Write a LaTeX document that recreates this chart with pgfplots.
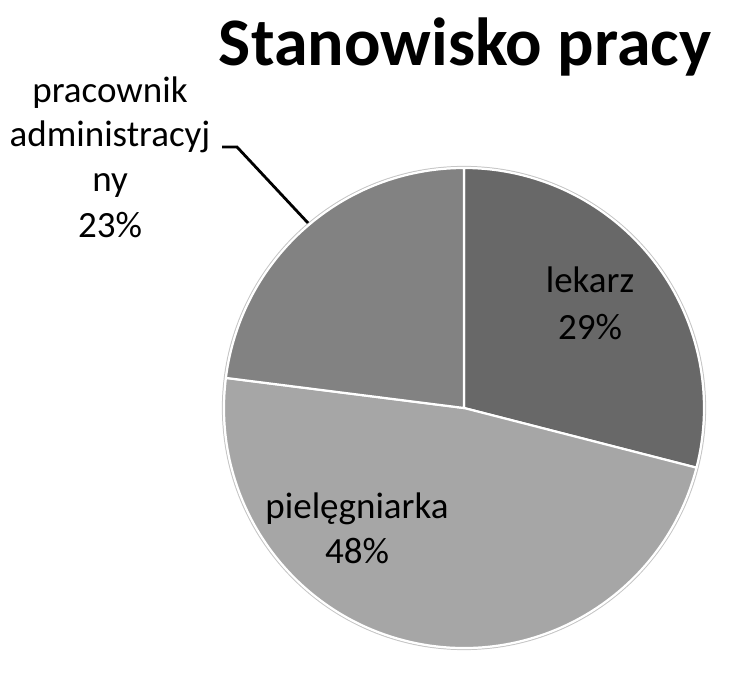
\documentclass[border=0pt]{standalone}
\usepackage{pgfplots}
\usepackage{pgfplotstable}
\pgfplotsset{compat=1.18}
\usepackage{fontspec}
\setmainfont{Carlito}
\definecolor{clek}{RGB}{104,104,104}
\definecolor{cpiel}{RGB}{166,166,166}
\definecolor{cadm}{RGB}{130,130,130}
\pgfplotstableread{
label value
lekarz 29
pielegniarka 48
administracyjny 23
}\piedata
\begin{document}
\begin{tikzpicture}
\pgfplotstablegetelem{0}{value}\of\piedata \pgfmathsetmacro{\va}{\pgfplotsretval}
\pgfplotstablegetelem{1}{value}\of\piedata \pgfmathsetmacro{\vb}{\pgfplotsretval}
\pgfplotstablegetelem{2}{value}\of\piedata \pgfmathsetmacro{\vc}{\pgfplotsretval}
\pgfmathsetmacro{\aA}{90}
\pgfmathsetmacro{\aB}{90-3.6*\va}
\pgfmathsetmacro{\aC}{\aB-3.6*\vb}
\pgfmathsetmacro{\aD}{\aC-3.6*\vc}
\begin{axis}[
  width=729pt, height=666pt, scale only axis,
  xmin=0, xmax=729, ymin=0, ymax=666,
  axis lines=none, ticks=none, clip=false,
]
\path (axis cs:0,0) rectangle (axis cs:729,666);
% faint outer shadow
\draw[gray!45, line width=1.2pt] (axis cs:464,258) circle[radius=241.5pt];
\fill[clek, draw=white, line width=2.2pt, line join=round] (axis cs:464,258) -- ++(\aA:240pt) arc[start angle=\aA, end angle=\aB, radius=240pt] -- cycle;
\fill[cpiel, draw=white, line width=2.2pt, line join=round] (axis cs:464,258) -- ++(\aB:240pt) arc[start angle=\aB, end angle=\aC, radius=240pt] -- cycle;
\fill[cadm, draw=white, line width=2.2pt, line join=round] (axis cs:464,258) -- ++(\aC:240pt) arc[start angle=\aC, end angle=\aD, radius=240pt] -- cycle;
% title
\node[anchor=base, font=\fontsize{68}{72}\selectfont\bfseries] at (axis cs:465,600) {Stanowisko pracy};
% labels
\node[anchor=base, font=\fontsize{37}{45}\selectfont] at (axis cs:590,373) {lekarz};
\node[anchor=base, font=\fontsize{37}{45}\selectfont] at (axis cs:590,326) {29\%};
\node[anchor=base, font=\fontsize{37}{45}\selectfont] at (axis cs:357,147) {pielęgniarka};
\node[anchor=base, font=\fontsize{37}{45}\selectfont] at (axis cs:357,102) {48\%};
\node[anchor=base, font=\fontsize{37}{45}\selectfont] at (axis cs:110,563) {pracownik};
\node[anchor=base, font=\fontsize{37}{45}\selectfont] at (axis cs:110,519) {administracyj};
\node[anchor=base, font=\fontsize{37}{45}\selectfont] at (axis cs:110,474) {ny};
\node[anchor=base, font=\fontsize{37}{45}\selectfont] at (axis cs:110,428) {23\%};
\draw[black, line width=2.8pt] (axis cs:222,519) -- (axis cs:237,519) -- (axis cs:308,443);
\end{axis}
\end{tikzpicture}
\end{document}
